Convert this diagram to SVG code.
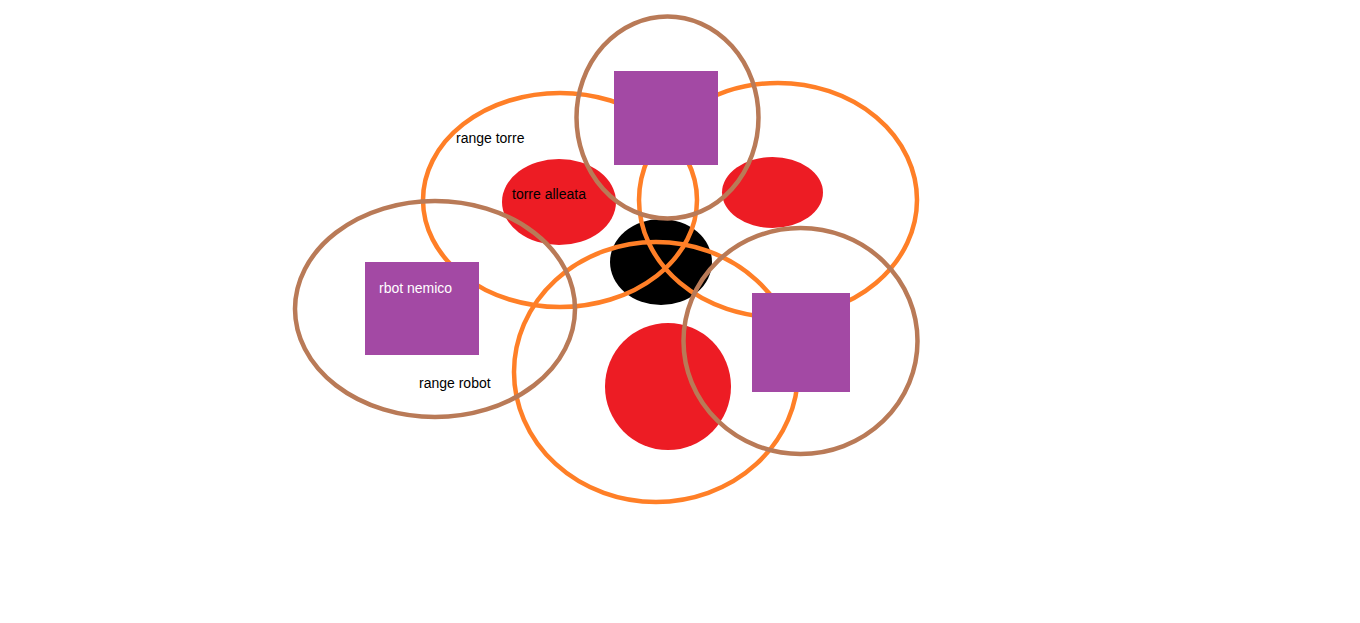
<svg xmlns="http://www.w3.org/2000/svg" width="1360" height="623" viewBox="0 0 1360 623">
<style>
.red{fill:#ED1C24}
.blk{fill:#000}
.rng-t{fill:none;stroke:#FF7F27;stroke-width:4.5}
.rng-r{fill:none;stroke:#B97A57;stroke-width:4.5}
.bot{fill:#A349A4}
.lbl{font-family:"Liberation Sans",Arial,sans-serif;font-size:14px;fill:#000}
.lbl-w{fill:#fff}
</style>
<rect width="1360" height="623" fill="#fff"/>
<g id="towers">
<g id="tower-left"><ellipse class="red" cx="559" cy="202" rx="57" ry="43"/></g>
<g id="tower-right"><ellipse class="red" cx="772.5" cy="192.5" rx="50.5" ry="35.5"/></g>
<g id="tower-bottom"><ellipse class="red" cx="668" cy="386.5" rx="63" ry="63.5"/></g>
<g id="core"><ellipse class="blk" cx="661" cy="262" rx="51" ry="43"/></g>
</g>
<g id="tower-ranges">
<ellipse class="rng-t" cx="560" cy="200" rx="137" ry="107"/>
<ellipse class="rng-t" cx="778" cy="200" rx="139" ry="117"/>
<ellipse class="rng-t" cx="656" cy="372" rx="142" ry="130"/>
</g>
<g id="robot-ranges">
<ellipse class="rng-r" cx="435" cy="309" rx="140" ry="108"/>
<ellipse class="rng-r" cx="667.5" cy="117.5" rx="91" ry="101"/>
<ellipse class="rng-r" cx="800.5" cy="341" rx="117" ry="113"/>
</g>
<g id="robots">
<g id="robot-top"><rect class="bot" x="614" y="71" width="104" height="94"/></g>
<g id="robot-left"><rect class="bot" x="365" y="262" width="114" height="93"/></g>
<g id="robot-right"><rect class="bot" x="752" y="293" width="98" height="99"/></g>
</g>
<g id="labels">
<text class="lbl" x="456" y="143">range torre</text>
<text class="lbl" x="512" y="199">torre alleata</text>
<text class="lbl lbl-w" x="379" y="293">rbot nemico</text>
<text class="lbl" x="419" y="388">range robot</text>
</g>
</svg>
